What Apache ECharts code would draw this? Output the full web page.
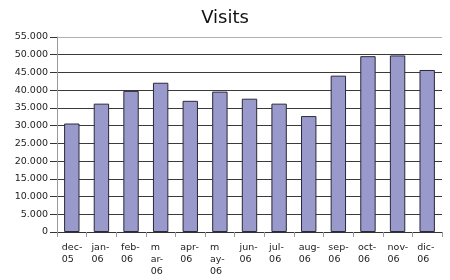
<!DOCTYPE html>
<html><head><meta charset="utf-8">
<script src="https://cdn.jsdelivr.net/npm/echarts@6/dist/echarts.min.js"></script>
<style>html,body{margin:0;padding:0;background:#fff}#c{width:450px;height:280px}</style>
</head><body><div id="c"></div>
<script>
const categories = ["dec-05","jan-06","feb-06","mar-06","apr-06","may-06","jun-06","jul-06","aug-06","sep-06","oct-06","nov-06","dic-06"];
const tickLabels = ["dec-\n05","jan-\n06","feb-\n06","m\nar-\n06","apr-\n06","m\nay-\n06","jun-\n06","jul-\n06","aug-\n06","sep-\n06","oct-\n06","nov-\n06","dic-\n06"];
const visits = [30600, 36200, 39800, 42100, 37000, 39600, 37600, 36200, 32700, 44100, 49600, 49800, 45700];
const yTicks = ["0","5.000","10.000","15.000","20.000","25.000","30.000","35.000","40.000","45.000","50.000","55.000"];

const chart = echarts.init(document.getElementById('c'), null, {renderer:'canvas'});
const gridColors = [];
for (let i = 0; i < yTicks.length; i++) gridColors.push(i === yTicks.length - 1 ? '#b0b0b0' : '#3a3a3a');
chart.setOption({
  animation: false,
  title: {text: 'Visits', left: 'center', top: 4, textStyle: {fontFamily: 'DejaVu Sans', fontSize: 18, fontWeight: 'normal', color: '#111'}},
  grid: {left: 57, right: 8, top: 37, bottom: 48, containLabel: false},
  xAxis: {
    type: 'category', data: categories,
    axisLine: {show: true, lineStyle: {color: '#333', width: 1}},
    axisTick: {show: true, alignWithLabel: false, length: 5, lineStyle: {color: '#999'}},
    axisLabel: {
      interval: 0, margin: 10, fontFamily: 'DejaVu Sans', fontSize: 9.5, color: '#222', lineHeight: 12,
      formatter: (v, i) => tickLabels[i].split('\n').map(s => '{a|' + s + '}').join('\n'),
      rich: {a: {width: 20, align: 'left', fontFamily: 'DejaVu Sans', fontSize: 9.5, color: '#222', lineHeight: 12}}
    }
  },
  yAxis: {
    type: 'value', min: 0, max: 55000, interval: 5000,
    axisLine: {show: true, lineStyle: {color: '#999', width: 1}},
    axisTick: {show: true, length: 7, lineStyle: {color: '#333'}},
    axisLabel: {margin: 9, fontFamily: 'DejaVu Sans', fontSize: 9.5, color: '#222',
      formatter: (v) => yTicks[Math.round(v / 5000)]},
    splitLine: {show: true, lineStyle: {color: gridColors, width: 1}}
  },
  series: [{
    type: 'bar', data: visits, barWidth: '52%',
    itemStyle: {color: '#9999cc', borderColor: '#2a2a3a', borderWidth: 1}
  }]
});
</script></body></html>
